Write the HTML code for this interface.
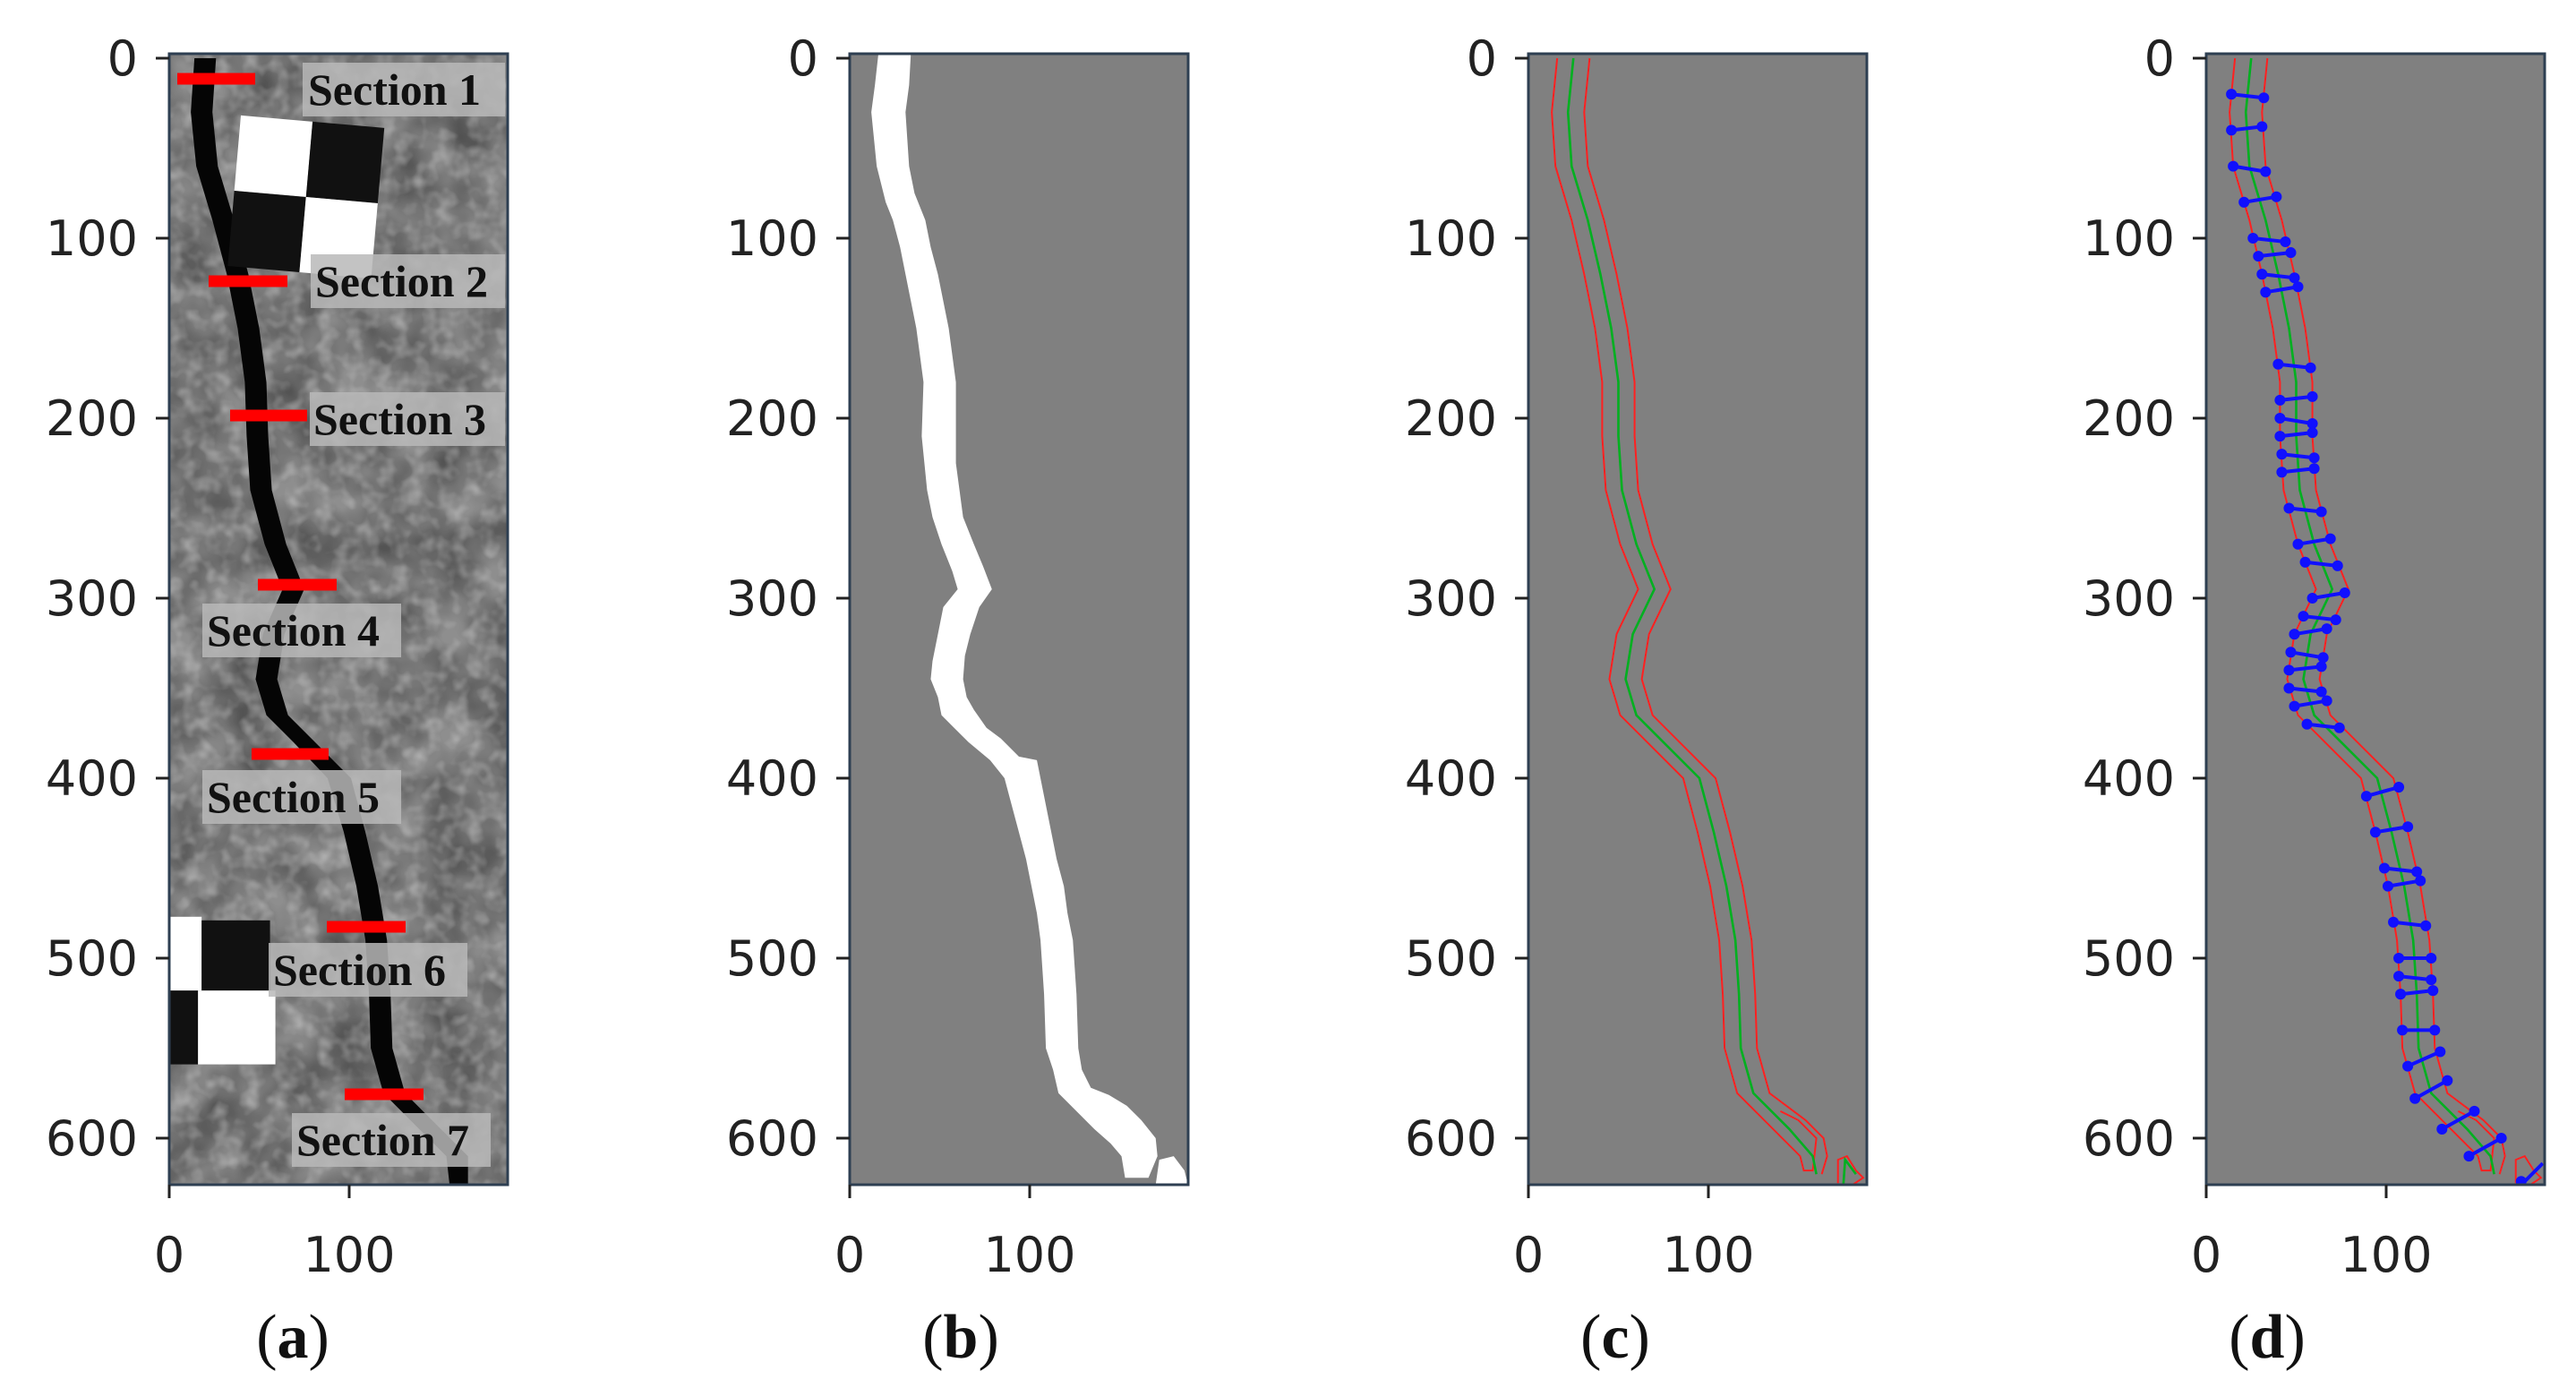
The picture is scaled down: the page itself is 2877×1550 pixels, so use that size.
<!DOCTYPE html>
<html><head><meta charset="utf-8"><style>html,body{margin:0;padding:0;background:#fff}svg{display:block}</style></head>
<body>
<svg width="2877" height="1550" viewBox="0 0 2877 1550" xmlns="http://www.w3.org/2000/svg">
<defs>
<filter id="noise" x="0" y="0" width="100%" height="100%">
<feTurbulence type="fractalNoise" baseFrequency="0.035" numOctaves="3" seed="4"/>
<feColorMatrix type="matrix" values="0 0 0 0 0  0 0 0 0 0  0 0 0 0 0  0 0 0 1.2 -0.3"/>
</filter>
<filter id="noise2" x="0" y="0" width="100%" height="100%">
<feTurbulence type="fractalNoise" baseFrequency="0.12" numOctaves="2" seed="9"/>
<feColorMatrix type="matrix" values="0 0 0 0 1  0 0 0 0 1  0 0 0 0 1  0 0 0 1.4 -0.6"/>
</filter>
<clipPath id="ax"><rect x="0" y="-2.5" width="188" height="628.5"/></clipPath>
</defs>

<!-- ========== Panel (a) ========== -->
<g transform="translate(189,65) scale(2.01)">
<g clip-path="url(#ax)">
<rect x="0" y="-2.5" width="188" height="628.5" fill="#8e8e8e"/>
<rect x="0" y="-2.5" width="188" height="628.5" fill="#000" filter="url(#noise)" opacity="0.6"/>
<rect x="0" y="-2.5" width="188" height="628.5" filter="url(#noise2)" opacity="0.5"/>
<polygon fill="#050505" points="14,0 12,30 15,60 24,90 32,120 38,150 42,180 43,210 45,240 53,270 63,295 52,320 48,345 54,365 69,380 88,400 97,430 104,460 109,490 111,520 112,550 119,575 139,595 154,610 156,628 166,628 166,610 151,595 131,575 124,550 123,520 121,490 116,460 109,430 101,400 81,380 66,365 60,345 64,320 75,295 65,270 57,240 55,210 54,180 50,150 44,120 36,90 27,60 24,30 26,0"/>
<g transform="rotate(5 75 77)">
<rect x="36" y="35" width="40" height="42" fill="#fff"/>
<rect x="76" y="35" width="40" height="42" fill="#111"/>
<rect x="36" y="77" width="40" height="42" fill="#111"/>
<rect x="76" y="77" width="40" height="42" fill="#fff"/>
</g>
<rect x="0" y="477" width="18" height="41" fill="#fff"/>
<rect x="18" y="479" width="38" height="39" fill="#111"/>
<rect x="0" y="518" width="16" height="41" fill="#111"/>
<rect x="16" y="518" width="43" height="41" fill="#fff"/>
</g>
</g>
<g font-family="Liberation Serif, serif" font-weight="bold" font-size="50" fill="#111">
<rect x="338" y="70" width="226" height="60" fill="#b8b8b8" opacity="0.85"/><text x="344" y="117">Section 1</text>
<rect x="347" y="284" width="217" height="60" fill="#b8b8b8" opacity="0.85"/><text x="352" y="331">Section 2</text>
<rect x="346" y="438" width="218" height="60" fill="#b8b8b8" opacity="0.85"/><text x="350" y="485">Section 3</text>
<rect x="226" y="674" width="222" height="60" fill="#b8b8b8" opacity="0.85"/><text x="231" y="721">Section 4</text>
<rect x="226" y="860" width="222" height="60" fill="#b8b8b8" opacity="0.85"/><text x="231" y="907">Section 5</text>
<rect x="300" y="1053" width="222" height="60" fill="#b8b8b8" opacity="0.85"/><text x="305" y="1100">Section 6</text>
<rect x="326" y="1243" width="222" height="60" fill="#b8b8b8" opacity="0.85"/><text x="331" y="1290">Section 7</text>
</g>
<g stroke="#ff0000" stroke-width="13">
<line x1="198" y1="88" x2="285" y2="88"/>
<line x1="233" y1="314" x2="321" y2="314"/>
<line x1="257" y1="464" x2="343" y2="464"/>
<line x1="288" y1="653" x2="376" y2="653"/>
<line x1="281" y1="842" x2="367" y2="842"/>
<line x1="365" y1="1035" x2="453" y2="1035"/>
<line x1="385" y1="1222" x2="473" y2="1222"/>
</g>

<!-- ========== Panel (b) ========== -->
<g transform="translate(949,65) scale(2.01)">
<g clip-path="url(#ax)">
<rect x="0" y="-2.5" width="188" height="628.5" fill="#808080"/>
<polygon fill="#fff" points="16,-3 14,15 12,30 15,60 20,80 24,90 28,105 31,120 35,140 37,150 41,180 40,210 43,240 46,255 51,270 57,285 60,295 52,305 49,320 46,335 45,345 49,355 51,365 58,372 66,380 78,390 86,400 90,415 94,430 98,445 101,460 104,475 106,490 108,520 109,550 113,562 116,575 126,585 136,595 145,603 151,610 153,622 166,622 171,610 170,600 162,590 154,582 144,576 134,572 129,562 127,550 126,520 124,490 121,475 119,460 115,445 112,430 108,410 104,390 94,388 84,378 76,372 69,362 65,355 63,345 64,332 67,320 72,305 79,295 74,282 69,270 63,255 61,240 59,225 59,210 59,180 57,165 55,150 52,135 49,120 45,105 42,90 36,75 33,60 32,45 31,30 33,15 34,-3"/>
<polygon fill="#fff" points="172,612 180,610 186,618 188,626 170,626"/>
</g>
</g>

<!-- ========== Panel (c) ========== -->
<g transform="translate(1707,65) scale(2.01)">
<g clip-path="url(#ax)">
<rect x="0" y="-2.5" width="188" height="628.5" fill="#808080"/>
<g fill="none" stroke-width="1">
<polyline stroke="#ff2020" points="16,0 13,30 15,60 24,90 31,120 37,150 41,180 41,210 43,240 51,270 61,295 49,320 45,345 51,365 66,380 86,400 94,430 101,460 106,490 108,520 109,550 116,575 136,595 151,610 153,618 158,618 160,600 150,590 140,585"/>
<polyline stroke="#ff2020" points="34,0 31,30 33,60 42,90 49,120 55,150 59,180 59,210 61,240 69,270 79,295 67,320 63,345 69,365 84,380 104,400 112,430 119,460 124,490 126,520 127,550 134,575 154,590 164,600 166,610 163,620"/>
<polyline stroke="#ff2020" points="172,625 172,612 177,610 182,618 186,622 180,626"/>
<polyline stroke="#00b020" stroke-width="1.3" points="25,0 22,30 24,60 33,90 40,120 46,150 50,180 50,210 52,240 60,270 70,295 58,320 54,345 60,365 75,380 95,400 103,430 110,460 115,490 117,520 118,550 125,575 145,595 158,610 160,620"/>
<polyline stroke="#00b020" stroke-width="1.3" points="175,626 176,612 182,620"/>
</g>
</g>
</g>

<!-- ========== Panel (d) ========== -->
<g transform="translate(2464,65) scale(2.01)">
<g clip-path="url(#ax)">
<rect x="0" y="-2.5" width="188" height="628.5" fill="#808080"/>
<g fill="none" stroke-width="1">
<polyline stroke="#ff2020" points="16,0 13,30 15,60 24,90 31,120 37,150 41,180 41,210 43,240 51,270 61,295 49,320 45,345 51,365 66,380 86,400 94,430 101,460 106,490 108,520 109,550 116,575 136,595 151,610 153,618 158,618 160,600 150,590 140,585"/>
<polyline stroke="#ff2020" points="34,0 31,30 33,60 42,90 49,120 55,150 59,180 59,210 61,240 69,270 79,295 67,320 63,345 69,365 84,380 104,400 112,430 119,460 124,490 126,520 127,550 134,575 154,590 164,600 166,610 163,620"/>
<polyline stroke="#ff2020" points="172,625 172,612 177,610 182,618 186,622 180,626"/>
<polyline stroke="#00b020" stroke-width="1.3" points="25,0 22,30 24,60 33,90 40,120 46,150 50,180 50,210 52,240 60,270 70,295 58,320 54,345 60,365 75,380 95,400 103,430 110,460 115,490 117,520 118,550 125,575 145,595 158,610 160,620"/>
</g>
<g stroke="#1010ff" stroke-width="2" fill="#1010ff">
<line x1="14" y1="20" x2="32" y2="22"/><circle cx="14" cy="20" r="2"/><circle cx="32" cy="22" r="2"/>
<line x1="14" y1="40" x2="31" y2="38"/><circle cx="14" cy="40" r="2"/><circle cx="31" cy="38" r="2"/>
<line x1="15" y1="60" x2="33" y2="63"/><circle cx="15" cy="60" r="2"/><circle cx="33" cy="63" r="2"/>
<line x1="21" y1="80" x2="39" y2="77"/><circle cx="21" cy="80" r="2"/><circle cx="39" cy="77" r="2"/>
<line x1="26" y1="100" x2="44" y2="102"/><circle cx="26" cy="100" r="2"/><circle cx="44" cy="102" r="2"/>
<line x1="29" y1="110" x2="47" y2="108"/><circle cx="29" cy="110" r="2"/><circle cx="47" cy="108" r="2"/>
<line x1="31" y1="120" x2="49" y2="122"/><circle cx="31" cy="120" r="2"/><circle cx="49" cy="122" r="2"/>
<line x1="33" y1="130" x2="51" y2="127"/><circle cx="33" cy="130" r="2"/><circle cx="51" cy="127" r="2"/>
<line x1="40" y1="170" x2="58" y2="172"/><circle cx="40" cy="170" r="2"/><circle cx="58" cy="172" r="2"/>
<line x1="41" y1="190" x2="59" y2="188"/><circle cx="41" cy="190" r="2"/><circle cx="59" cy="188" r="2"/>
<line x1="41" y1="200" x2="59" y2="203"/><circle cx="41" cy="200" r="2"/><circle cx="59" cy="203" r="2"/>
<line x1="41" y1="210" x2="59" y2="208"/><circle cx="41" cy="210" r="2"/><circle cx="59" cy="208" r="2"/>
<line x1="42" y1="220" x2="60" y2="222"/><circle cx="42" cy="220" r="2"/><circle cx="60" cy="222" r="2"/>
<line x1="42" y1="230" x2="60" y2="228"/><circle cx="42" cy="230" r="2"/><circle cx="60" cy="228" r="2"/>
<line x1="46" y1="250" x2="64" y2="252"/><circle cx="46" cy="250" r="2"/><circle cx="64" cy="252" r="2"/>
<line x1="51" y1="270" x2="69" y2="267"/><circle cx="51" cy="270" r="2"/><circle cx="69" cy="267" r="2"/>
<line x1="55" y1="280" x2="73" y2="282"/><circle cx="55" cy="280" r="2"/><circle cx="73" cy="282" r="2"/>
<line x1="59" y1="300" x2="77" y2="297"/><circle cx="59" cy="300" r="2"/><circle cx="77" cy="297" r="2"/>
<line x1="54" y1="310" x2="72" y2="312"/><circle cx="54" cy="310" r="2"/><circle cx="72" cy="312" r="2"/>
<line x1="49" y1="320" x2="67" y2="317"/><circle cx="49" cy="320" r="2"/><circle cx="67" cy="317" r="2"/>
<line x1="47" y1="330" x2="65" y2="333"/><circle cx="47" cy="330" r="2"/><circle cx="65" cy="333" r="2"/>
<line x1="46" y1="340" x2="64" y2="338"/><circle cx="46" cy="340" r="2"/><circle cx="64" cy="338" r="2"/>
<line x1="46" y1="350" x2="64" y2="352"/><circle cx="46" cy="350" r="2"/><circle cx="64" cy="352" r="2"/>
<line x1="49" y1="360" x2="67" y2="357"/><circle cx="49" cy="360" r="2"/><circle cx="67" cy="357" r="2"/>
<line x1="56" y1="370" x2="74" y2="372"/><circle cx="56" cy="370" r="2"/><circle cx="74" cy="372" r="2"/>
<line x1="89" y1="410" x2="107" y2="405"/><circle cx="89" cy="410" r="2"/><circle cx="107" cy="405" r="2"/>
<line x1="94" y1="430" x2="112" y2="427"/><circle cx="94" cy="430" r="2"/><circle cx="112" cy="427" r="2"/>
<line x1="99" y1="450" x2="117" y2="452"/><circle cx="99" cy="450" r="2"/><circle cx="117" cy="452" r="2"/>
<line x1="101" y1="460" x2="119" y2="457"/><circle cx="101" cy="460" r="2"/><circle cx="119" cy="457" r="2"/>
<line x1="104" y1="480" x2="122" y2="482"/><circle cx="104" cy="480" r="2"/><circle cx="122" cy="482" r="2"/>
<line x1="107" y1="500" x2="125" y2="500"/><circle cx="107" cy="500" r="2"/><circle cx="125" cy="500" r="2"/>
<line x1="107" y1="510" x2="125" y2="512"/><circle cx="107" cy="510" r="2"/><circle cx="125" cy="512" r="2"/>
<line x1="108" y1="520" x2="126" y2="518"/><circle cx="108" cy="520" r="2"/><circle cx="126" cy="518" r="2"/>
<line x1="109" y1="540" x2="127" y2="540"/><circle cx="109" cy="540" r="2"/><circle cx="127" cy="540" r="2"/>
<line x1="112" y1="560" x2="130" y2="552"/><circle cx="112" cy="560" r="2"/><circle cx="130" cy="552" r="2"/>
<line x1="116" y1="578" x2="134" y2="568"/><circle cx="116" cy="578" r="2"/><circle cx="134" cy="568" r="2"/>
<line x1="131" y1="595" x2="149" y2="585"/><circle cx="131" cy="595" r="2"/><circle cx="149" cy="585" r="2"/>
<line x1="146" y1="610" x2="164" y2="600"/><circle cx="146" cy="610" r="2"/><circle cx="164" cy="600" r="2"/>
<line x1="175" y1="626" x2="187" y2="614"/><circle cx="175" cy="624" r="2"/>
</g>
</g>
</g>

<!-- ========== Frames, ticks, labels ========== -->
<g fill="none" stroke="#2e3f52" stroke-width="3">
<rect x="189" y="60" width="378" height="1263"/>
<rect x="949" y="60" width="378" height="1263"/>
<rect x="1707" y="60" width="378" height="1263"/>
<rect x="2464" y="60" width="378" height="1263"/>
</g>
<g stroke="#222" stroke-width="3">
<path d="M174 65h15M174 266h15M174 467h15M174 668h15M174 869h15M174 1070h15M174 1271h15M189 1323v15M390 1323v15"/>
<path d="M934 65h15M934 266h15M934 467h15M934 668h15M934 869h15M934 1070h15M934 1271h15M949 1323v15M1150 1323v15"/>
<path d="M1692 65h15M1692 266h15M1692 467h15M1692 668h15M1692 869h15M1692 1070h15M1692 1271h15M1707 1323v15M1908 1323v15"/>
<path d="M2449 65h15M2449 266h15M2449 467h15M2449 668h15M2449 869h15M2449 1070h15M2449 1271h15M2464 1323v15M2665 1323v15"/>
</g>
<g fill="#222" font-family="DejaVu Sans, Liberation Sans, sans-serif" font-size="54">
<g text-anchor="end">
<text x="154" y="84">0</text><text x="154" y="285">100</text><text x="154" y="486">200</text><text x="154" y="687">300</text><text x="154" y="888">400</text><text x="154" y="1089">500</text><text x="154" y="1290">600</text>
<text x="914" y="84">0</text><text x="914" y="285">100</text><text x="914" y="486">200</text><text x="914" y="687">300</text><text x="914" y="888">400</text><text x="914" y="1089">500</text><text x="914" y="1290">600</text>
<text x="1672" y="84">0</text><text x="1672" y="285">100</text><text x="1672" y="486">200</text><text x="1672" y="687">300</text><text x="1672" y="888">400</text><text x="1672" y="1089">500</text><text x="1672" y="1290">600</text>
<text x="2429" y="84">0</text><text x="2429" y="285">100</text><text x="2429" y="486">200</text><text x="2429" y="687">300</text><text x="2429" y="888">400</text><text x="2429" y="1089">500</text><text x="2429" y="1290">600</text>
</g>
<g text-anchor="middle">
<text x="189" y="1420">0</text><text x="390" y="1420">100</text>
<text x="949" y="1420">0</text><text x="1150" y="1420">100</text>
<text x="1707" y="1420">0</text><text x="1908" y="1420">100</text>
<text x="2464" y="1420">0</text><text x="2665" y="1420">100</text>
</g>
</g>
<g fill="#111" font-family="Liberation Serif, serif" font-size="70" text-anchor="middle">
<text x="327" y="1516">(<tspan font-weight="bold">a</tspan>)</text>
<text x="1073" y="1516">(<tspan font-weight="bold">b</tspan>)</text>
<text x="1804" y="1516">(<tspan font-weight="bold">c</tspan>)</text>
<text x="2532" y="1516">(<tspan font-weight="bold">d</tspan>)</text>
</g>
</svg>
</body></html>
